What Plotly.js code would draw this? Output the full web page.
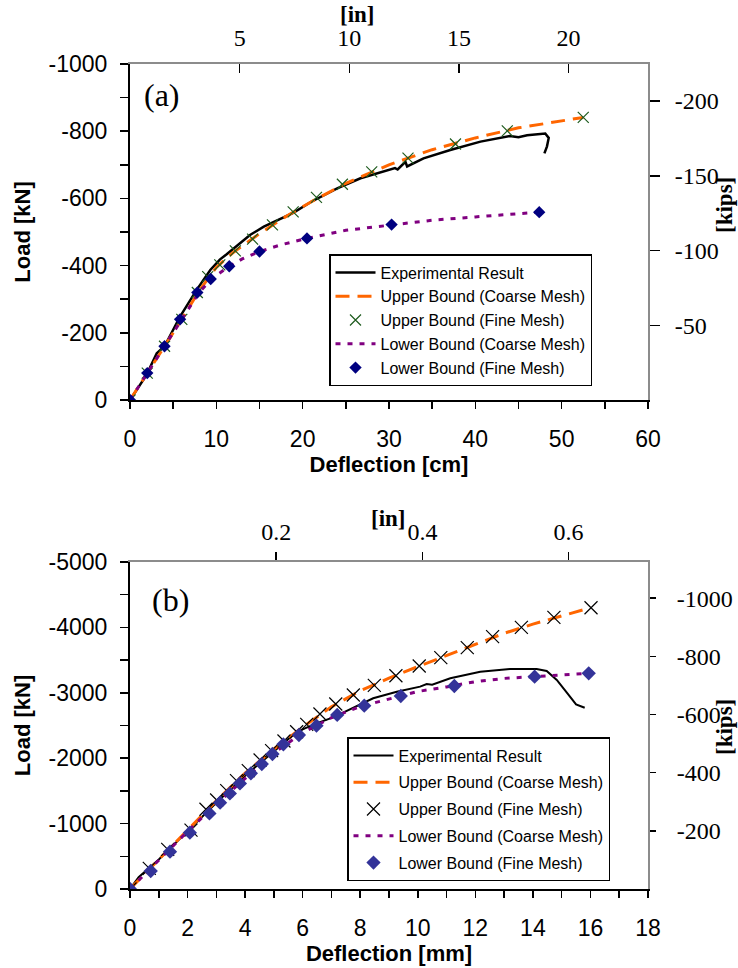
<!DOCTYPE html>
<html>
<head>
<meta charset="utf-8">
<script src="https://cdn.plot.ly/plotly-3.0.1.min.js"></script>
<style>html,body{margin:0;padding:0;background:#fff;}#chart{width:738px;height:968px;}</style>
</head>
<body>
<div id="chart"></div>
<script>
// ---------- Data: chart (a) ----------
const expDeflA = [0,1.2,1.9,3.1,4.0,5.8,7.7,9.3,10.4,11.2,12.2,13.9,15.5,18.9,21.0,24.0,26.7,29.7,30.7,31.0,31.9,32.1,34.0,37.1,40.6,44.0,45.0,46.0,47.5,48.1,48.5,48.3,48.0];
const expLoadA = [0,-45,-74,-139,-160,-248,-327,-387,-418,-434,-456,-491,-516,-557,-590,-630,-660,-684,-690,-686,-709,-695,-719,-744,-769,-786,-782,-788,-790,-793,-780,-755,-734];
const ubCoarseDeflA = [0,2,4,6,8,10,12,15,18,21,25,30,35,40,45,52.5];
const ubCoarseLoadA = [0,-80,-160,-240,-325,-395,-440,-495,-545,-590,-645,-700,-745,-780,-810,-841];
const ubFineDeflA = [0,2,4,6,7.8,9.0,10.4,12.2,14.2,16.5,18.9,21.6,24.6,28.0,32.2,37.7,43.7,52.5];
const ubFineLoadA = [0,-80,-160,-240,-320,-367,-402,-444,-479,-521,-560,-603,-642,-679,-720,-762,-801,-841];
const lbCoarseDeflA = [0,2,4,6,8,9.5,11.5,13,15,17.5,20.5,25,30.3,35,40,47.4];
const lbCoarseLoadA = [0,-80,-160,-240,-320,-362,-398,-420,-442,-462,-481,-505,-522,-535,-545,-559];
const lbFineDeflA = [0,2,4,5.8,7.8,9.35,11.5,15.0,20.5,30.3,47.4];
const lbFineLoadA = [0,-80,-160,-240,-320,-360,-398,-442,-481,-522,-559];

// ---------- Data: chart (b) ----------
const expDeflB = [0,0.3,1,2,3,4,5,5.6,6.0,6.48,7.06,7.64,8.45,9.27,10.08,10.31,10.5,11.13,12.17,13.2,14.13,14.48,14.83,15.2,15.5,15.8];
const expLoadB = [0,-180,-450,-880,-1320,-1730,-2110,-2330,-2440,-2533,-2625,-2748,-2916,-3017,-3094,-3135,-3125,-3222,-3323,-3364,-3364,-3333,-3196,-2992,-2824,-2772];
const ubCoarseDeflB = [0,1,2,3,4,5,6,7,8,9,10,11,12,13,14,15,16];
const ubCoarseLoadB = [0,-455,-900,-1350,-1770,-2140,-2475,-2785,-3030,-3225,-3400,-3570,-3740,-3910,-4050,-4180,-4300];
const ubFineDeflB = [0,0.67,1.31,2.12,2.64,3.01,3.36,3.7,4.11,4.52,4.92,5.35,5.79,6.14,6.6,7.15,7.76,8.49,9.24,10.05,10.8,11.72,12.6,13.6,14.73,16.02];
const ubFineLoadB = [0,-316,-607,-900,-1219,-1361,-1503,-1656,-1809,-1972,-2115,-2263,-2405,-2518,-2676,-2829,-2966,-3114,-3261,-3410,-3537,-3690,-3858,-4001,-4154,-4301];
const lbCoarseDeflB = [0,1,2,3,4,5,6,7,8,9,10,11,12,13,14,15,16];
const lbCoarseLoadB = [0,-445,-880,-1300,-1690,-2080,-2390,-2620,-2790,-2910,-3020,-3090,-3170,-3220,-3250,-3275,-3300];
const lbFineDeflB = [0,0.72,1.39,2.08,2.76,3.13,3.47,3.82,4.2,4.58,4.95,5.33,5.87,6.48,7.2,8.14,9.41,11.27,14.06,15.94];
const lbFineLoadB = [0,-275,-570,-861,-1156,-1320,-1462,-1615,-1768,-1911,-2064,-2212,-2355,-2497,-2661,-2803,-2951,-3104,-3246,-3298];

// ---------- Tick labels ----------
const cmTicks = [0,10,20,30,40,50,60];
const inTicksA = [5,10,15,20];
const kNTicksA = [0,-200,-400,-600,-800,-1000];
const kipTicksA = [-50,-100,-150,-200];
const mmTicks = [0,2,4,6,8,10,12,14,16,18];
const inTicksB = [0.2,0.4,0.6];
const kNTicksB = [0,-1000,-2000,-3000,-4000,-5000];
const kipTicksB = [-200,-400,-600,-800,-1000];
const seriesNames = ['Experimental Result','Upper Bound (Coarse Mesh)','Upper Bound (Fine Mesh)','Lower Bound (Coarse Mesh)','Lower Bound (Fine Mesh)'];

const KN_PER_KIP = 4.448, CM_PER_IN = 2.54, MM_PER_IN = 25.4;
const SANS = 'Liberation Sans, Arial, sans-serif';
const SERIF = 'Liberation Serif, Times New Roman, serif';
const lbl = v => String(v); // plain hyphen-minus labels

const W = 738, H = 968;
const xDom = [130/W, 648/W];
const yDomA = [1-400/H, 1-64/H];
const yDomB = [1-889/H, 1-562/H];

// empty helper traces so that the secondary (inch / kip) axes are created
const axisHolder = (xa, ya) => ({x:[null], y:[null], mode:'markers', xaxis:xa, yaxis:ya, showlegend:false, hoverinfo:'skip', marker:{opacity:0}});

const traces = [
  // chart (a)
  {x:expDeflA, y:expLoadA, mode:'lines', name:seriesNames[0], line:{color:'#000', width:2.5}, xaxis:'x', yaxis:'y', legend:'legend'},
  {x:ubCoarseDeflA, y:ubCoarseLoadA, mode:'lines', name:seriesNames[1], line:{color:'#FF6600', width:3, dash:'14px,8px'}, xaxis:'x', yaxis:'y', legend:'legend'},
  {x:ubFineDeflA, y:ubFineLoadA, mode:'markers', name:seriesNames[2], marker:{symbol:'x-thin-open', size:11, color:'#1E5B1E', line:{width:1.2, color:'#1E5B1E'}}, xaxis:'x', yaxis:'y', legend:'legend'},
  {x:lbCoarseDeflA, y:lbCoarseLoadA, mode:'lines', name:seriesNames[3], line:{color:'#800080', width:3, dash:'5px,7px'}, xaxis:'x', yaxis:'y', legend:'legend'},
  {x:lbFineDeflA, y:lbFineLoadA, mode:'markers', name:seriesNames[4], marker:{symbol:'diamond', size:9.5, color:'#000080'}, xaxis:'x', yaxis:'y', legend:'legend'},
  // chart (b)
  {x:expDeflB, y:expLoadB, mode:'lines', name:seriesNames[0], line:{color:'#000', width:2}, xaxis:'x3', yaxis:'y3', legend:'legend2', legendgroup:'b1'},
  {x:ubCoarseDeflB, y:ubCoarseLoadB, mode:'lines', name:seriesNames[1], line:{color:'#FF6600', width:3, dash:'14px,8px'}, xaxis:'x3', yaxis:'y3', legend:'legend2', legendgroup:'b2'},
  {x:ubFineDeflB, y:ubFineLoadB, mode:'markers', name:seriesNames[2], marker:{symbol:'x-thin-open', size:13, color:'#000', line:{width:1.2, color:'#000'}}, xaxis:'x3', yaxis:'y3', legend:'legend2', legendgroup:'b3'},
  {x:lbCoarseDeflB, y:lbCoarseLoadB, mode:'lines', name:seriesNames[3], line:{color:'#800080', width:3, dash:'5px,7px'}, xaxis:'x3', yaxis:'y3', legend:'legend2', legendgroup:'b4'},
  {x:lbFineDeflB, y:lbFineLoadB, mode:'markers', name:seriesNames[4], marker:{symbol:'diamond', size:11, color:'#333399'}, xaxis:'x3', yaxis:'y3', legend:'legend2', legendgroup:'b5'},
  axisHolder('x2','y'), axisHolder('x','y2'), axisHolder('x4','y3'), axisHolder('x3','y4')
];

const sansTick = {family:SANS, size:23, color:'#000'};
const serifTick = {family:SERIF, size:24, color:'#000'};
const axTitleFont = {family:SANS, size:22, color:'#000'};
function mainX(range, vals, minorDt, title) {
  return {domain:xDom, range:range, tickmode:'array', tickvals:vals, ticktext:vals.map(lbl),
    ticks:'outside', ticklen:7, tickwidth:1.5, tickcolor:'#000',
    minor:{tick0:0, dtick:minorDt, ticks:'outside', ticklen:7, tickwidth:1.5, tickcolor:'#000', showgrid:false},
    showline:true, linecolor:'#000', linewidth:2, showgrid:false, zeroline:false,
    tickfont:sansTick, ticklabelstandoff:10,
    title:{text:'<b>'+title+'</b>', font:axTitleFont, standoff:2}, fixedrange:true};
}
function mainY(dom, range, vals, minorDt, title) {
  return {domain:dom, range:range, tickmode:'array', tickvals:vals, ticktext:vals.map(lbl),
    ticks:'outside', ticklen:8, tickwidth:1.5, tickcolor:'#000',
    minor:{tick0:0, dtick:minorDt, ticks:'outside', ticklen:8, tickwidth:1.5, tickcolor:'#000', showgrid:false},
    showline:true, linecolor:'#000', linewidth:2, showgrid:false, zeroline:false,
    tickfont:sansTick, ticklabelstandoff:8,
    title:{text:'<b>'+title+'</b>', font:axTitleFont, standoff:12}, fixedrange:true};
}
function secAxis(extra) {
  return Object.assign({tickmode:'array', tickwidth:1.5, tickcolor:'#000', showline:true, linecolor:'#8c8c8c', linewidth:2,
    showgrid:false, zeroline:false, tickfont:serifTick, fixedrange:true}, extra);
}
const ann = (text, px, py, size, angle) => ({text:text, xref:'paper', yref:'paper', x:px/W, y:1-py/H,
  xanchor:'center', yanchor:'middle', showarrow:false, textangle:angle||0, font:{family:SERIF, size:size, color:'#000'}});

const layout = {
  width:W, height:H, margin:{l:0,r:0,t:0,b:0}, paper_bgcolor:'#fff', plot_bgcolor:'#fff',
  showlegend:true,
  xaxis: Object.assign(mainX([0,60], cmTicks, 5, 'Deflection [cm]'), {anchor:'y'}),
  yaxis: Object.assign(mainY(yDomA, [0,-1000], kNTicksA, 100, 'Load [kN]'), {anchor:'x'}),
  xaxis2: secAxis({overlaying:'x', side:'top', anchor:'y', range:[0, 60/CM_PER_IN], tickvals:inTicksA, ticktext:inTicksA.map(lbl),
    ticks:'inside', ticklen:9, ticklabelstandoff:6}),
  yaxis2: secAxis({overlaying:'y', side:'right', anchor:'x', range:[0, -1000/KN_PER_KIP], tickvals:kipTicksA, ticktext:kipTicksA.map(lbl),
    ticks:'outside', ticklen:10, ticklabelstandoff:10}),
  xaxis3: Object.assign(mainX([0,18], mmTicks, 1, 'Deflection [mm]'), {anchor:'y3'}),
  yaxis3: Object.assign(mainY(yDomB, [0,-5000], kNTicksB, 500, 'Load [kN]'), {anchor:'x3'}),
  xaxis4: secAxis({overlaying:'x3', side:'top', anchor:'y3', range:[0, 18/MM_PER_IN], tickvals:inTicksB, ticktext:inTicksB.map(lbl),
    ticks:'outside', ticklen:8, ticklabelstandoff:2}),
  yaxis4: secAxis({overlaying:'y3', side:'right', anchor:'x3', range:[0, -5000/KN_PER_KIP], tickvals:kipTicksB, ticktext:kipTicksB.map(lbl),
    ticks:'outside', ticklen:6, ticklabelstandoff:16}),
  legend: {x:329/W, y:1-254/H, xanchor:'left', yanchor:'top', bgcolor:'#fff', bordercolor:'#000', borderwidth:1.5,
    font:{family:SANS, size:16, color:'#000'}, itemwidth:40, tracegroupgap:0, traceorder:'normal'},
  legend2: {x:347/W, y:1-737/H, xanchor:'left', yanchor:'top', bgcolor:'#fff', bordercolor:'#000', borderwidth:1.5,
    font:{family:SANS, size:16, color:'#000'}, itemwidth:40, tracegroupgap:3, traceorder:'grouped'},
  annotations: [
    ann('(a)', 162, 95, 32),
    ann('(b)', 170, 600, 32),
    ann('<b>[in]</b>', 357, 15, 23),
    ann('<b>[in]</b>', 388, 518, 23),
    ann('<b>[kips]</b>', 724, 205, 23, -90),
    ann('<b>[kips]</b>', 724, 727, 23, -90)
  ]
};

Plotly.newPlot('chart', traces, layout, {staticPlot:true, displayModeBar:false});
</script>
</body>
</html>
